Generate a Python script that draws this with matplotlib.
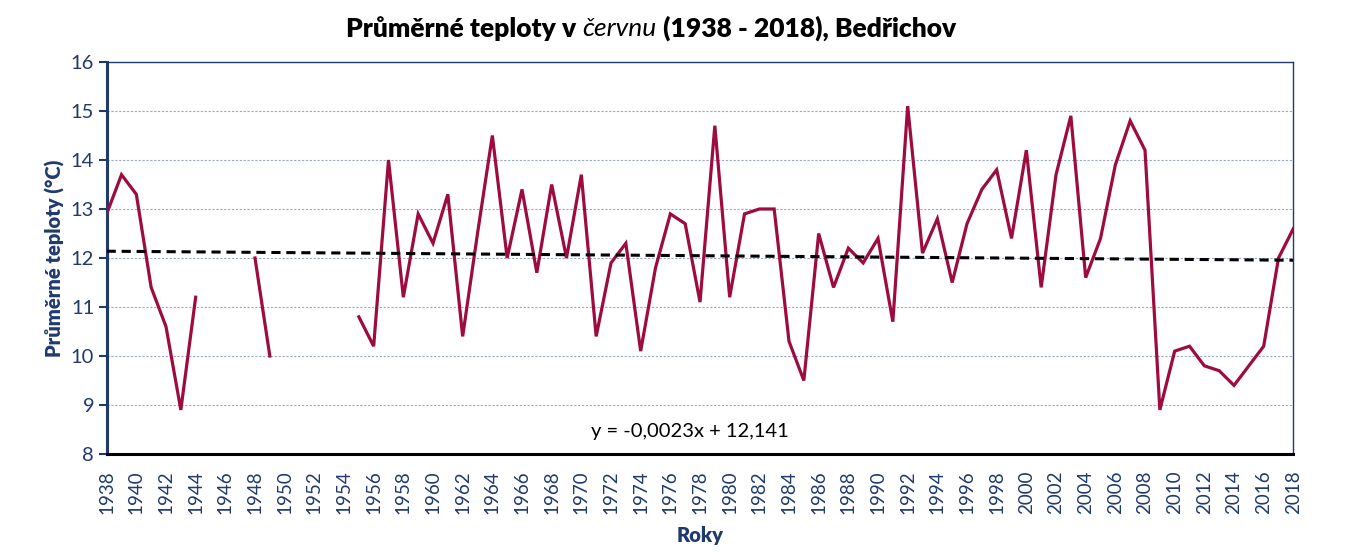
import numpy as np
import matplotlib
matplotlib.use("Agg")
import matplotlib.pyplot as plt

plt.rcParams['font.family'] = ['Lato', 'DejaVu Sans']

years = list(range(1938, 2019))
temps = [12.9, 13.7, 13.3, 11.4, 10.6, 8.9, 11.2,          # 1938-1944
         np.nan, np.nan, np.nan,                          # 1945-1947
         12.0, 10.0,                                      # 1948-1949
         np.nan, np.nan, np.nan, np.nan, np.nan,          # 1950-1954
         10.8, 10.2, 14.0, 11.2, 12.9, 12.3, 13.3, 10.4, 12.5,   # 1955-1963
         14.5, 12.0, 13.4, 11.7, 13.5, 12.0, 13.7, 10.4, 11.9,   # 1964-1972
         12.3, 10.1, 11.8, 12.9, 12.7, 11.1, 14.7, 11.2, 12.9,   # 1973-1981
         13.0, 13.0, 10.3, 9.5, 12.5, 11.4, 12.2, 11.9, 12.4,    # 1982-1990
         10.7, 15.1, 12.1, 12.8, 11.5, 12.7, 13.4, 13.8, 12.4,   # 1991-1999
         14.2, 11.4, 13.7, 14.9, 11.6, 12.4, 13.9, 14.8, 14.2,   # 2000-2008
         8.9, 10.1, 10.2, 9.8, 9.7, 9.4, 9.8, 10.2, 12.0, 12.6]  # 2009-2018
trend_slope = -0.0023
trend_icpt = 12.141
trend_label = "y = -0,0023x + 12,141"

navy = '#1F3A6E'

fig = plt.figure(figsize=(13.45, 5.52), dpi=100)
ax = fig.add_axes([0.0793, 0.1775, 0.8823, 0.7102])

x = np.array(years)
y = np.array(temps)
ax.plot(x, y, color='#9E0B3F', lw=2.3, solid_joinstyle='miter', zorder=3)

idx = x - years[0] + 1
ax.plot(x, trend_slope * idx + trend_icpt, color='black', lw=2.2,
        ls=(0, (3.0, 1.9)), zorder=4)

ax.set_xlim(1938, 2018)
ax.set_ylim(8, 16)
ax.set_xticks(range(1938, 2019, 2))
ax.set_xticklabels([str(v) for v in range(1938, 2019, 2)], rotation=90,
                   color=navy, fontsize=13.5)
ax.set_yticks(range(8, 17))
ax.tick_params(axis='y', colors=navy, labelsize=14.5, direction='out',
               length=6, width=1.5, pad=3)
ax.tick_params(axis='x', length=0, pad=12)

ax.grid(axis='y', color='#9AA8C4', lw=0.8, ls=(0, (2, 1.5)))
ax.set_axisbelow(True)

for side in ['top', 'right']:
    ax.spines[side].set_color(navy)
    ax.spines[side].set_linewidth(1.0)
ax.spines['left'].set_color(navy)
ax.spines['left'].set_linewidth(2.2)
ax.spines['bottom'].set_color('black')
ax.spines['bottom'].set_linewidth(2.2)

ax.set_ylabel("Průměrné teploty (°C)", color=navy, fontsize=14.5,
              fontweight='heavy', labelpad=4)
ax.set_xlabel("Roky", color=navy, fontsize=14.5, fontweight='heavy', labelpad=8)

ax.text(1977.3, 8.45, trend_label, fontsize=14.5, color='black',
        ha='center', va='center')

# title with an italic word in the middle
parts = [("Průměrné teploty v ", 'heavy', 'normal'),
         ("červnu", 'normal', 'italic'),
         (" (1938 - 2018), Bedřichov", 'heavy', 'normal')]
fig.canvas.draw()
renderer = fig.canvas.get_renderer()
objs = []
for s, w, st in parts:
    t = fig.text(0, 0.948, s, fontsize=19, fontweight=w, style=st,
                 va='center', ha='left', color='black')
    objs.append(t)
widths = [t.get_window_extent(renderer).width for t in objs]
xpos = 651 - sum(widths) / 2
for t, wd in zip(objs, widths):
    t.set_x(xpos / 1345)
    xpos += wd

fig.savefig("out.png", dpi=100)
